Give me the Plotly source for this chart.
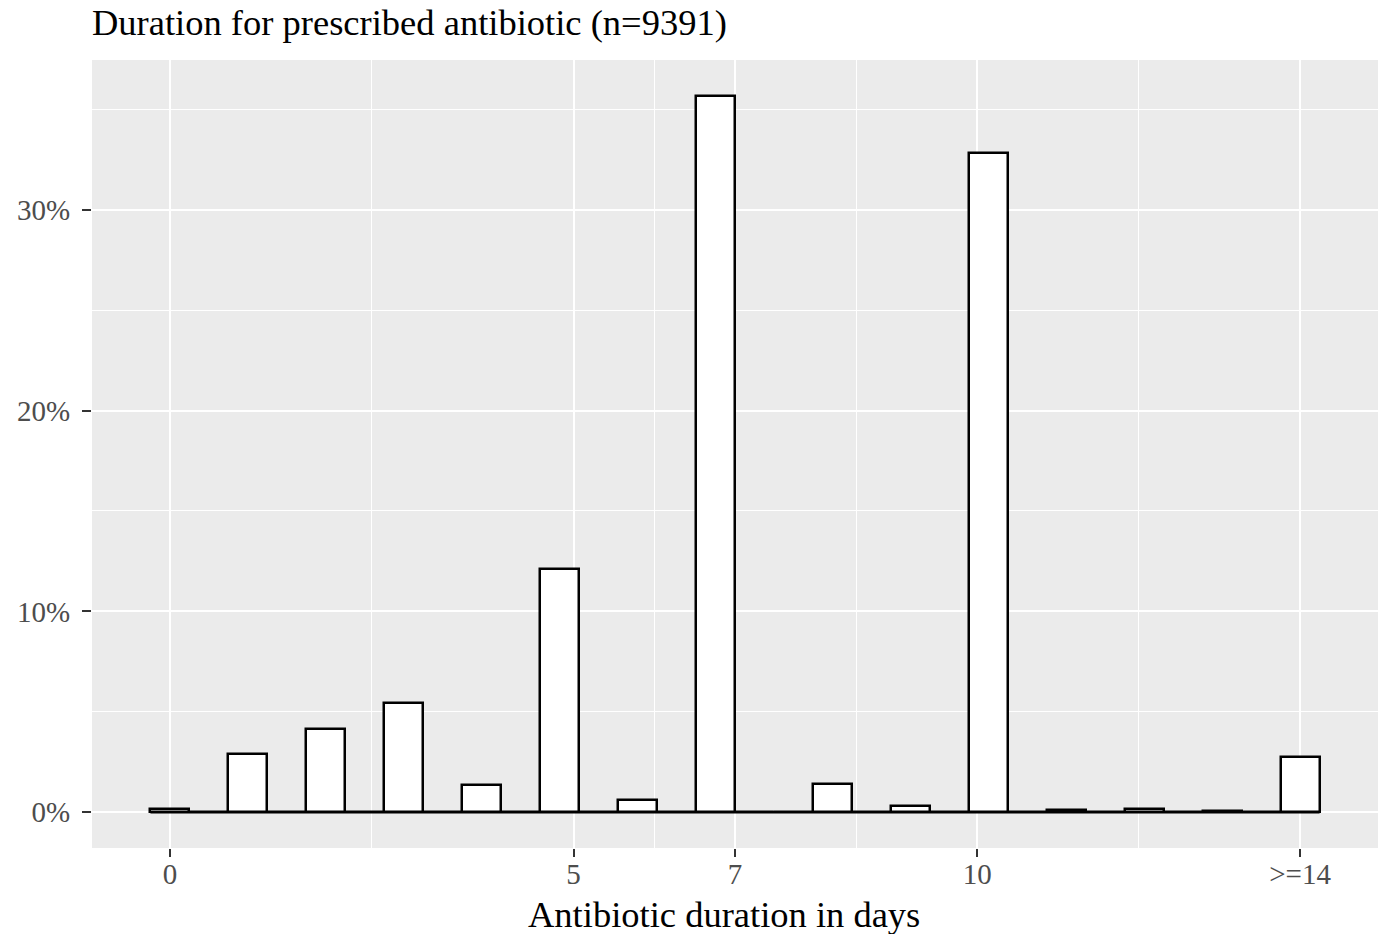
from fractions import Fraction
import math
import plotly.graph_objects as go

# ---------------- data ----------------
days = list(range(15))
pct = [0.14, 2.90, 4.15, 5.45, 1.35, 12.12, 0.60, 35.67, 1.38, 0.30, 32.82, 0.10, 0.14, 0.06, 2.77]
x_tick_vals = [0, 5, 7, 10, 14]
x_tick_text = ["0", "5", "7", "10", ">=14"]
y_tick_vals = [0, 10, 20, 30]
y_tick_text = ["0%", "10%", "20%", "30%"]
title_text = "Duration for prescribed antibiotic (n=9391)"
x_title = "Antibiotic duration in days"
n_bins = 30

# ---------------- binning (ggplot2 geom_histogram, bins=30) ----------------
x_min, x_max = min(days), max(days)
w = Fraction(x_max - x_min, n_bins - 1)
centers = [float(x_min + i * w) for i in range(n_bins)]
heights = [0.0] * n_bins
for d, p in zip(days, pct):
    i = math.ceil(Fraction(d - x_min) / w - Fraction(1, 2))  # right-closed bins
    heights[i] += p
wf = float(w)

lo, hi = x_min - wf / 2, x_max + wf / 2
span = hi - lo
x_range = [lo - 0.05 * span, hi + 0.05 * span]
ymax = max(heights)
y_range = [-0.05 * ymax, ymax * 1.05]

x_minor = [(a + b) / 2 for a, b in zip(x_tick_vals[:-1], x_tick_vals[1:])]
y_minor = [v + 5 for v in y_tick_vals]

FONT = "Liberation Serif"

fig = go.Figure()
# zero-height bins are drawn as a flat outline along the baseline
fig.add_trace(go.Scatter(
    x=[lo, hi], y=[0, 0], mode="lines",
    line=dict(color="black", width=2.5), hoverinfo="skip", showlegend=False,
))
fig.add_trace(go.Bar(
    x=centers, y=heights, width=wf,
    marker=dict(color="white", line=dict(color="black", width=2.5)),
    showlegend=False,
))

fig.update_layout(
    width=1386, height=934,
    margin=dict(l=92, r=8, t=60, b=86),
    paper_bgcolor="white", plot_bgcolor="#EBEBEB",
    font=dict(family=FONT, color="black"),
    bargap=0,
    title=dict(
        text=title_text, x=0, xref="paper", xanchor="left",
        y=1 - 22 / 934, yref="container", yanchor="middle",
        font=dict(family=FONT, size=36.5, color="black"),
    ),
    annotations=[dict(
        text=x_title, xref="paper", yref="paper",
        x=(724 - 92) / 1286, y=-(915 - 848) / 788,
        xanchor="center", yanchor="middle", showarrow=False,
        font=dict(family=FONT, size=36.5, color="black"),
    )],
)

fig.update_xaxes(
    range=x_range, tickmode="array", tickvals=x_tick_vals, ticktext=x_tick_text,
    showgrid=True, gridcolor="white", gridwidth=2,
    minor=dict(tickmode="array", tickvals=x_minor, showgrid=True, gridcolor="white", gridwidth=1, ticks=""),
    ticks="outside", ticklen=8, tickwidth=2, tickcolor="#333333",
    tickfont=dict(family=FONT, size=29, color="#4D4D4D"),
    ticklabelstandoff=-8,
    zeroline=False, showline=False, automargin=False,
)
fig.update_yaxes(
    range=y_range, tickmode="array", tickvals=y_tick_vals, ticktext=y_tick_text,
    showgrid=True, gridcolor="white", gridwidth=2,
    minor=dict(tickmode="array", tickvals=y_minor, showgrid=True, gridcolor="white", gridwidth=1, ticks=""),
    ticks="outside", ticklen=9, tickwidth=2, tickcolor="#333333",
    tickfont=dict(family=FONT, size=29, color="#4D4D4D"),
    ticklabelstandoff=6,
    zeroline=False, showline=False, automargin=False,
)

fig.write_html("out.html")
